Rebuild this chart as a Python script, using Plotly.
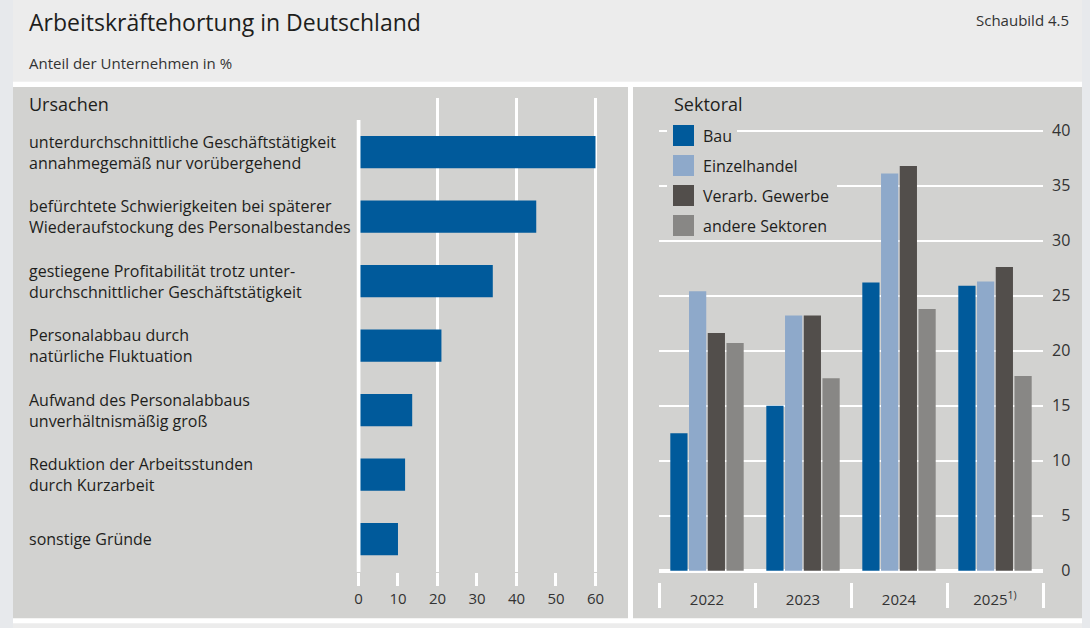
import plotly.graph_objects as go

# ---------------- data ----------------
reasons = [
    "unterdurchschnittliche Geschäftstätigkeit<br>annahmegemäß nur vorübergehend",
    "befürchtete Schwierigkeiten bei späterer<br>Wiederaufstockung des Personalbestandes",
    "gestiegene Profitabilität trotz unter-<br>durchschnittlicher Geschäftstätigkeit",
    "Personalabbau durch<br>natürliche Fluktuation",
    "Aufwand des Personalabbaus<br>unverhältnismäßig groß",
    "Reduktion der Arbeitsstunden<br>durch Kurzarbeit",
    "sonstige Gründe",
]
reason_values = [60, 45, 34, 21, 13.6, 11.8, 10]

years = ["2022", "2023", "2024", "2025<sup>1)</sup>"]
sectors = ["Bau", "Einzelhandel", "Verarb. Gewerbe", "andere Sektoren"]
bau = [12.5, 15.0, 26.2, 25.9]
einzelhandel = [25.4, 23.2, 36.1, 26.3]
verarb = [21.6, 23.2, 36.8, 27.6]
andere = [20.7, 17.5, 23.8, 17.7]
sector_values = [bau, einzelhandel, verarb, andere]

left_ticks = [0, 10, 20, 30, 40, 50, 60]
left_grid = [20, 40, 60]
right_ticks = [0, 5, 10, 15, 20, 25, 30, 35, 40]

title = "Arbeitskräftehortung in Deutschland"
subtitle = "Anteil der Unternehmen in %"
figno = "Schaubild 4.5"

# ---------------- style ----------------
W, H = 1090, 628
FONT = "Open Sans"
TXT = "#1e1e1c"
TICK = "#333333"
PANEL = "#d2d2d0"
TITLEBG = "#ececec"
OUTER = "#e7e9ec"
colors = ["#005a9b", "#8ea9ca", "#524e4b", "#888785"]


def px(x):
    return x / W


def py(y):
    return 1 - y / H


fig = go.Figure()

# left: horizontal bars
fig.add_trace(go.Bar(
    x=reason_values, y=list(range(len(reasons))), orientation="h",
    marker=dict(color=colors[0], line=dict(width=0)), width=0.5,
    xaxis="x", yaxis="y", showlegend=False, hoverinfo="x",
))

# right: grouped bars
for name, vals, col in zip(sectors, sector_values, colors):
    fig.add_trace(go.Bar(
        x=years, y=vals, name=name, marker=dict(color=col, line=dict(width=0)),
        xaxis="x2", yaxis="y2", showlegend=False,
    ))

# empty helper trace so the category-separator axis (x3) is drawn
fig.add_trace(go.Scatter(x=[], y=[], xaxis="x3", yaxis="y2", showlegend=False, hoverinfo="skip"))
boundaries = [i - 0.5 for i in range(len(years) + 1)]

shapes = [
    dict(type="rect", xref="paper", yref="paper", x0=px(13), x1=px(1082), y0=0, y1=1,
         fillcolor=TITLEBG, line=dict(width=0), layer="below"),
    dict(type="rect", xref="paper", yref="paper", x0=px(13), x1=px(1082), y0=py(623.3), y1=py(81.7),
         fillcolor="white", line=dict(width=0), layer="below"),
    dict(type="rect", xref="paper", yref="paper", x0=px(13), x1=px(628), y0=py(618.3), y1=py(87),
         fillcolor=PANEL, line=dict(width=0), layer="below"),
    dict(type="rect", xref="paper", yref="paper", x0=px(633), x1=px(1082), y0=py(618.3), y1=py(87),
         fillcolor=PANEL, line=dict(width=0), layer="below"),
    # zero line of left panel
    dict(type="line", xref="x", yref="paper", x0=0, x1=0, y0=py(572), y1=py(120),
         line=dict(color="white", width=4), layer="above"),
]

annotations = [
    dict(text=title, x=px(27), y=py(22), xref="paper", yref="paper", xanchor="left", yanchor="middle",
         showarrow=False, font=dict(family=FONT, size=23, color=TXT)),
    dict(text=figno, x=px(1071), y=py(20), xref="paper", yref="paper", xanchor="right", yanchor="middle",
         showarrow=False, font=dict(family=FONT, size=15, color=TICK)),
    dict(text=subtitle, x=px(27), y=py(63), xref="paper", yref="paper", xanchor="left", yanchor="middle",
         showarrow=False, font=dict(family=FONT, size=15, color=TICK)),
    dict(text="Ursachen", x=px(27), y=py(104), xref="paper", yref="paper", xanchor="left", yanchor="middle",
         showarrow=False, font=dict(family=FONT, size=18, color=TXT)),
    dict(text="Sektoral", x=px(672), y=py(104), xref="paper", yref="paper", xanchor="left", yanchor="middle",
         showarrow=False, font=dict(family=FONT, size=18, color=TXT)),
]

# reason labels (left-aligned)
for i, lab in enumerate(reasons):
    annotations.append(dict(text=lab, x=px(27), y=i, xref="paper", yref="y", xanchor="left",
                            yanchor="middle", align="left", showarrow=False,
                            font=dict(family=FONT, size=16, color=TXT)))

# manual legend
leg_top = 125
leg_step = 30
leg_bg_right = [737, 803, 837, 833]
for i, (name, col) in enumerate(zip(sectors, colors)):
    t = leg_top + i * leg_step
    shapes.append(dict(type="rect", xref="paper", yref="paper", x0=px(667), x1=px(leg_bg_right[i]),
                       y0=py(t + 24), y1=py(t - 6), fillcolor=PANEL, line=dict(width=0), layer="above"))
    shapes.append(dict(type="rect", xref="paper", yref="paper", x0=px(673), x1=px(694),
                       y0=py(t + 21), y1=py(t), fillcolor=col, line=dict(width=0), layer="above"))
    annotations.append(dict(text=name, x=px(701), y=py(t + 10.5), xref="paper", yref="paper",
                            xanchor="left", yanchor="middle", showarrow=False,
                            font=dict(family=FONT, size=16, color=TXT)))

right_ticktext = [("\u2007" + str(v)) if v < 10 else str(v) for v in right_ticks]

fig.update_layout(
    width=W, height=H, margin=dict(l=0, r=0, t=0, b=0, pad=0, autoexpand=False),
    paper_bgcolor=OUTER, plot_bgcolor="rgba(0,0,0,0)",
    font=dict(family=FONT, color=TICK),
    barmode="group", bargap=0.22, bargroupgap=0.08,
    shapes=shapes, annotations=annotations,
    xaxis=dict(domain=[px(356.5), px(619.2)], range=[-0.5, 66], anchor="y", automargin=False,
               tickmode="array", tickvals=left_ticks, showgrid=False, zeroline=False,
               ticks="outside", ticklen=13, tickwidth=2.5, tickcolor="white",
               tickfont=dict(family=FONT, size=15, color=TICK), showline=False,
               minor=dict(tickmode="array", tickvals=left_grid, showgrid=True,
                          gridcolor="white", gridwidth=2.5, ticks="")),
    yaxis=dict(domain=[py(572), py(98)], range=[6.51, -0.84], anchor="x", automargin=False,
               showgrid=False, zeroline=False, showticklabels=False, showline=False, ticks=""),
    xaxis2=dict(domain=[px(659), px(1043)], type="category", range=[-0.5, 3.5],
                anchor="y2", automargin=False, ticks="", ticklabelstandoff=16,
                showgrid=False, zeroline=False, showline=False,
                tickfont=dict(family=FONT, size=15, color=TICK)),
    xaxis3=dict(domain=[px(659), px(1043)], range=[-0.5, 3.5], overlaying="x2",
                anchor="free", position=py(582), automargin=False,
                tickmode="array", tickvals=boundaries, showticklabels=False,
                ticks="outside", ticklen=25, tickwidth=2.5, tickcolor="white",
                showgrid=False, zeroline=False, showline=False),
    yaxis2=dict(domain=[py(572.9), py(127.4)], range=[-0.2, 40.3], anchor="x2", side="right",
                automargin=False, tickmode="array", tickvals=right_ticks, ticktext=right_ticktext,
                showgrid=True, gridcolor="white", gridwidth=2.2,
                zeroline=True, zerolinecolor="white", zerolinewidth=4,
                ticks="", ticklabelstandoff=8, showline=False,
                tickfont=dict(family=FONT, size=16, color=TICK)),
)

fig.write_html("out.html", config={"displayModeBar": False},
               post_script="document.body.style.margin='0';document.body.style.overflow='hidden';")
